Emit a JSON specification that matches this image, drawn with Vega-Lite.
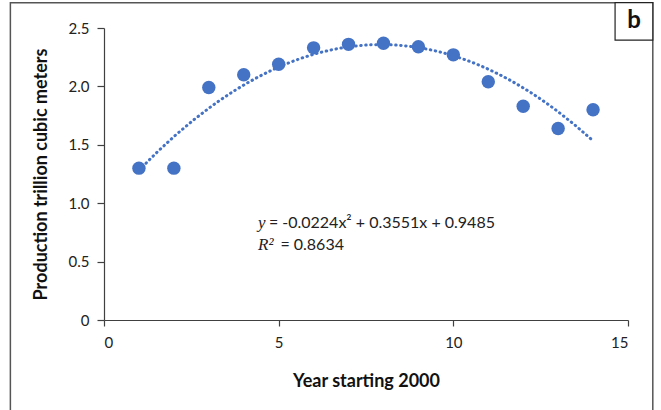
{
  "$schema": "https://vega.github.io/schema/vega-lite/v6.json",
  "autosize": "none",
  "width": 524,
  "height": 292,
  "padding": {"left": 104, "top": 28, "right": 33, "bottom": 90},
  "background": "white",
  "config": {
    "view": {"stroke": null},
    "font": "Lato",
    "axis": {
      "grid": false,
      "domainColor": "#404040",
      "tickColor": "#404040",
      "domainWidth": 1.2,
      "tickWidth": 1.2,
      "labelFont": "Lato",
      "labelFontSize": 15,
      "labelColor": "#222222",
      "titleFont": "Lato",
      "titleFontSize": 18,
      "titleFontWeight": "bold",
      "titleColor": "#111111"
    }
  },
  "data": {
    "values": [
      {"year": 1, "production": 1.30},
      {"year": 2, "production": 1.30},
      {"year": 3, "production": 1.99},
      {"year": 4, "production": 2.10},
      {"year": 5, "production": 2.19},
      {"year": 6, "production": 2.33},
      {"year": 7, "production": 2.36},
      {"year": 8, "production": 2.37},
      {"year": 9, "production": 2.34},
      {"year": 10, "production": 2.27},
      {"year": 11, "production": 2.04},
      {"year": 12, "production": 1.83},
      {"year": 13, "production": 1.64},
      {"year": 14, "production": 1.80}
    ]
  },
  "layer": [
    {
      "mark": {"type": "line", "color": "#4472C4", "strokeWidth": 3, "strokeDash": [0.5, 4.5], "strokeCap": "round"},
      "transform": [
        {"regression": "production", "on": "year", "method": "poly", "order": 2}
      ],
      "encoding": {
        "x": {"field": "year", "type": "quantitative"},
        "y": {"field": "production", "type": "quantitative"}
      }
    },
    {
      "mark": {"type": "circle", "color": "#4472C4", "opacity": 1, "size": 180},
      "encoding": {
        "x": {
          "field": "year", "type": "quantitative",
          "scale": {"domain": [0, 15], "nice": false, "zero": false},
          "axis": {
            "title": "Year starting 2000",
            "values": [0, 5, 10, 15],
            "tickSize": 6,
            "labelPadding": 9,
            "titlePadding": 22
          }
        },
        "y": {
          "field": "production", "type": "quantitative",
          "scale": {"domain": [0, 2.5], "nice": false},
          "axis": {
            "title": "Production trillion cubic meters",
            "values": [0, 0.5, 1, 1.5, 2, 2.5],
            "labelExpr": "datum.value == 0 ? '0' : format(datum.value, '.1f')",
            "tickSize": 7,
            "labelPadding": 8,
            "titlePadding": 18
          }
        }
      }
    },
    {
      "data": {"values": [{"t": "y"}]},
      "mark": {"type": "text", "align": "left", "baseline": "middle", "font": "Liberation Serif", "fontStyle": "italic", "fontSize": 17, "color": "#222222"},
      "encoding": {
        "x": {"datum": 4.41},
        "y": {"datum": 0.83},
        "text": {"field": "t"}
      }
    },
    {
      "data": {"values": [{"t": "= -0.0224x² + 0.3551x + 0.9485"}]},
      "mark": {"type": "text", "align": "left", "baseline": "middle", "font": "Lato", "fontSize": 16, "color": "#222222"},
      "encoding": {
        "x": {"datum": 4.72},
        "y": {"datum": 0.83},
        "text": {"field": "t"}
      }
    },
    {
      "data": {"values": [{"t": "R²"}]},
      "mark": {"type": "text", "align": "left", "baseline": "middle", "font": "Liberation Serif", "fontStyle": "italic", "fontSize": 17, "color": "#222222"},
      "encoding": {
        "x": {"datum": 4.41},
        "y": {"datum": 0.645},
        "text": {"field": "t"}
      }
    },
    {
      "data": {"values": [{"t": "= 0.8634"}]},
      "mark": {"type": "text", "align": "left", "baseline": "middle", "font": "Lato", "fontSize": 16, "color": "#222222"},
      "encoding": {
        "x": {"datum": 5.05},
        "y": {"datum": 0.645},
        "text": {"field": "t"}
      }
    },
    {
      "data": {"values": [{}]},
      "mark": {"type": "rect", "fill": null, "fillOpacity": 0, "stroke": "#555555", "strokeWidth": 1.5, "clip": false},
      "encoding": {
        "x": {"datum": -2.68},
        "x2": {"datum": 15.71},
        "y": {"datum": 2.717},
        "y2": {"datum": -0.85}
      }
    },
    {
      "data": {"values": [{}]},
      "mark": {"type": "rect", "fill": "white", "stroke": "#222222", "strokeWidth": 1.2, "clip": false},
      "encoding": {
        "x": {"datum": 14.63},
        "x2": {"datum": 15.71},
        "y": {"datum": 2.717},
        "y2": {"datum": 2.397}
      }
    },
    {
      "data": {"values": [{"t": "b"}]},
      "mark": {"type": "text", "align": "center", "baseline": "middle", "font": "Lato", "fontWeight": "bold", "fontSize": 24, "color": "#111111"},
      "encoding": {
        "x": {"datum": 15.17},
        "y": {"datum": 2.56},
        "text": {"field": "t"}
      }
    }
  ]
}
